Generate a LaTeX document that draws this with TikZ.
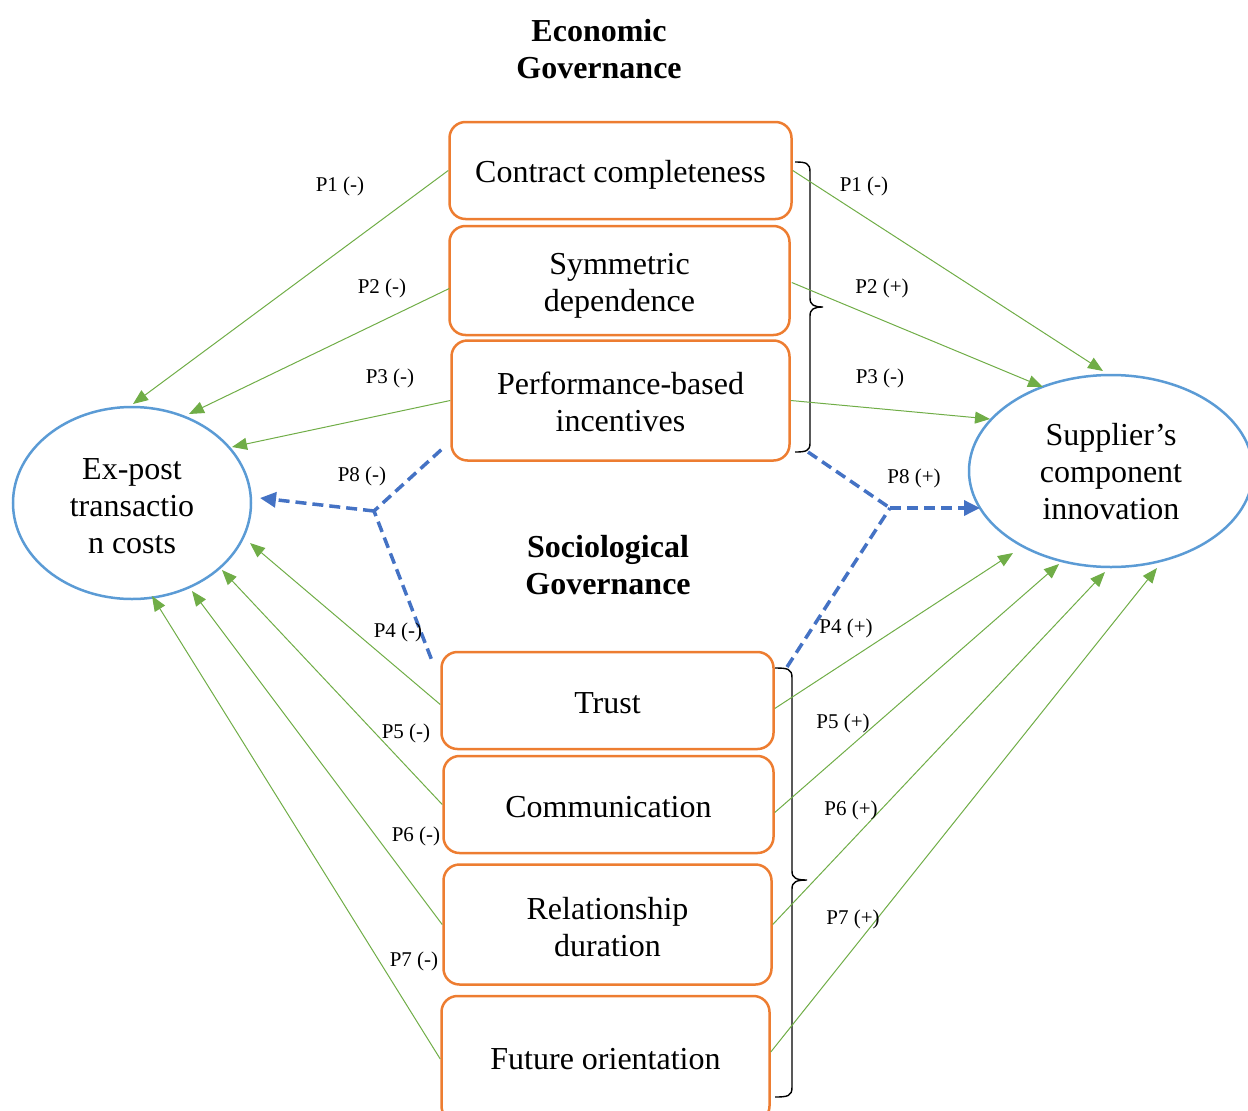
\documentclass[tikz,border=0pt]{standalone}
\usepackage{fontspec}
\setmainfont{Liberation Serif}
\usetikzlibrary{arrows.meta,shapes.geometric,calc}
\definecolor{boxor}{HTML}{ED7D31}
\definecolor{ellblue}{HTML}{5B9BD5}
\definecolor{dashblue}{HTML}{4472C4}
\definecolor{grn}{HTML}{70AD47}
\newcommand\lowtext[2]{\raisebox{-#1pt}[\height][\depth]{\begin{tabular}{@{}c@{}}#2\end{tabular}}}
\begin{document}
\begin{tikzpicture}[x=1pt,y=-1pt,
  box/.style={draw=boxor, line width=2.5pt, rounded corners=16pt, inner sep=0pt, align=center, font=\fontsize{32}{37}\selectfont},
  ell/.style={ellipse, draw=ellblue, line width=2.5pt, inner sep=0pt, align=center, font=\fontsize{32}{37}\selectfont},
  garrow/.style={draw=grn, line width=1pt, -{Triangle[length=15pt,width=12pt]}},
  bdash/.style={draw=dashblue, line width=3.5pt, dash pattern=on 11pt off 6pt},
  barrow/.style={bdash, -{Triangle[length=16pt,width=15pt]}},
  lbl/.style={font=\fontsize{21}{24}\selectfont, inner sep=0pt},
  head/.style={font=\bfseries\fontsize{32}{37}\selectfont, align=center, inner sep=0pt},
  bracepath/.style={draw=black, line width=1.4pt}
]
\useasboundingbox (0,0) rectangle (1248,1111);
\clip (0,0) rectangle (1248,1111);

% headings
\node[head] (eg) at (599,49) {Economic\\Governance};
\node[head] (sg) at (608,565) {Sociological\\Governance};

% boxes
\node[box, minimum width=342pt, minimum height=97pt] (cc) at (620.5,170.5) {\lowtext{5}{Contract completeness}};
\node[box, minimum width=340pt, minimum height=109pt] (sd) at (619.5,280.5) {\lowtext{5}{Symmetric\\dependence}};
\node[box, minimum width=338pt, minimum height=120pt] (pbi) at (620.5,400.5) {\lowtext{5}{Performance-based\\incentives}};
\node[box, minimum width=332pt, minimum height=97pt] (tr) at (607.5,700.5) {\lowtext{6}{Trust}};
\node[box, minimum width=330pt, minimum height=97pt] (cm) at (608.5,804.5) {\lowtext{6}{Communication}};
\node[box, minimum width=328pt, minimum height=120pt] (rd) at (607.5,924.5) {\lowtext{6}{Relationship\\duration}};
\node[box, minimum width=328pt, minimum height=126pt] (fo) at (605.5,1059) {\lowtext{3}{Future orientation}};

% ellipses
\node[ell, minimum width=238pt, minimum height=192pt] (ex) at (132,503) {\lowtext{6}{Ex-post\\transactio\\n costs}};
\node[ell, minimum width=284pt, minimum height=192pt] (sci) at (1111,471) {\lowtext{4}{Supplier’s\\component\\innovation}};

% braces
\coordinate (b1t) at (795,162);
\coordinate (b1b) at (795,452);
\coordinate (b2t) at (775,668);
\coordinate (b2b) at (775,1097);
\draw[bracepath] (b1t) .. controls (806,162) and (810,163) .. (810,172) -- (810,298)
  .. controls (810,305) and (814,307) .. (823,307)
  .. controls (814,307) and (810,309) .. (810,316) -- (810,443)
  .. controls (810,451) and (806,452) .. (b1b);
\draw[bracepath] (b2t) .. controls (788,668) and (792,669) .. (792,678) -- (792,871)
  .. controls (792,878) and (796,880) .. (807,880)
  .. controls (796,880) and (792,882) .. (792,889) -- (792,1087)
  .. controls (792,1096) and (788,1097) .. (b2b);

% green arrows left
\draw[garrow] (cc.west) -- ($(ex.center)+(1,-99)$);
\draw[garrow] ($(sd.west)+(1,8)$) -- ($(ex.center)+(57,-89)$);
\draw[garrow] (pbi.west) -- ($(ex.center)+(100,-56)$);
\draw[garrow] ($(tr.west)+(0,4)$) -- ($(ex.center)+(118,40)$);
\draw[garrow] (cm.west) -- ($(ex.center)+(90,67)$);
\draw[garrow] (rd.west) -- ($(ex.center)+(60,88)$);
\draw[garrow] (fo.west) -- ($(ex.center)+(20,93)$);

% green arrows right
\draw[garrow] (cc.east) -- ($(sci.center)+(-8,-100)$);
\draw[garrow] ($(sd.east)+(1,2)$) -- ($(sci.center)+(-68,-84)$);
\draw[garrow] (pbi.east) -- ($(sci.center)+(-121,-52)$);
\draw[garrow] ($(tr.east)+(0,8)$) -- ($(sci.center)+(-98,82)$);
\draw[garrow] ($(cm.east)+(0,8)$) -- ($(sci.center)+(-52,93)$);
\draw[garrow] (rd.east) -- ($(sci.center)+(-6,101)$);
\draw[garrow] ($(fo.east)+(0,-7)$) -- ($(sci.center)+(46,97)$);

% blue dashed
\coordinate (j1) at (374,511);
\coordinate (j2) at (890,508);
\draw[bdash] ($(pbi.south west)+(-9,-12)$) -- (j1);
\draw[bdash] ($(tr.north west)+(-9,8)$) -- (j1);
\draw[barrow] (j1) -- ($(ex.center)+(128,-5)$);
\draw[bdash] ($(b1b)+(13,0)$) -- (j2);
\draw[bdash] ($(b2t)+(12,-1)$) -- (j2);
\draw[barrow] (j2) -- ($(sci.center)+(-131,37)$);

% labels left
\node[lbl] (l1) at (340,186) {P1 (-)};
\node[lbl] (l2) at (382,288) {P2 (-)};
\node[lbl] (l3) at (390,378) {P3 (-)};
\node[lbl] (l8) at (362,476) {P8 (-)};
\node[lbl] (l4) at (398,632) {P4 (-)};
\node[lbl] (l5) at (406,733) {P5 (-)};
\node[lbl] (l6) at (416,836) {P6 (-)};
\node[lbl] (l7) at (414,961) {P7 (-)};
% labels right
\node[lbl] (r1) at (864,186) {P1 (-)};
\node[lbl] (r2) at (882,288) {P2 (+)};
\node[lbl] (r3) at (880,378) {P3 (-)};
\node[lbl] (r8) at (914,478) {P8 (+)};
\node[lbl] (r4) at (846,628) {P4 (+)};
\node[lbl] (r5) at (843,723) {P5 (+)};
\node[lbl] (r6) at (851,810) {P6 (+)};
\node[lbl] (r7) at (853,919) {P7 (+)};
\end{tikzpicture}
\end{document}
